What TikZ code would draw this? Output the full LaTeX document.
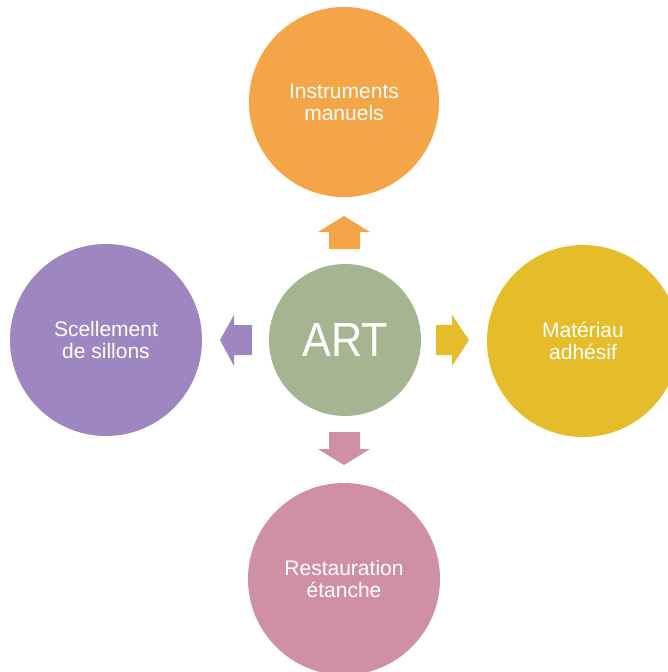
\documentclass[tikz,border=0pt]{standalone}
\usepackage{fontspec}
\setmainfont{Liberation Sans}
\definecolor{cOrange}{HTML}{F3A548}
\definecolor{cGreen}{HTML}{A5B592}
\definecolor{cPurple}{HTML}{9E86C1}
\definecolor{cYellow}{HTML}{E5BC2A}
\definecolor{cPink}{HTML}{D090A3}
\tikzset{
  bigcirc/.style={circle, inner sep=0pt, minimum size=192pt, text=white, align=center,
    font=\fontsize{21}{22}\selectfont},
  hubcirc/.style={circle, inner sep=0pt, minimum size=152pt, text=white,
    font=\fontsize{48}{48}\selectfont},
}
\begin{document}
\begin{tikzpicture}[x=1pt,y=-1pt]
\useasboundingbox (0,0) rectangle (668,672);
\begin{scope}
\clip (0,0) rectangle (668,672);
\node[hubcirc, fill=cGreen] (hub) at (345,340) {\scalebox{0.9}[1]{ART}};
\node[bigcirc, fill=cOrange, minimum size=190pt] (top) at (344,102) {Instruments\\manuels};
\node[bigcirc, fill=cPurple] (left) at (106,340) {Scellement\\de sillons};
\node[bigcirc, fill=cYellow] (right) at (583,341) {Matériau\\adhésif};
\node[bigcirc, fill=cPink] (bottom) at (344,579) {Restauration\\étanche};
\end{scope}
% block arrows
\fill[cOrange] (329,249) -- (360,249) -- (360,232) -- (370,232) -- (344,216) -- (318,232) -- (329,232) -- cycle;
\fill[cPink] (329,432) -- (360,432) -- (360,449) -- (370,449) -- (344,465) -- (318,449) -- (329,449) -- cycle;
\fill[cPurple] (252,325) -- (252,355) -- (234,355) -- (234,366) -- (220,340) -- (234,315) -- (234,325) -- cycle;
\fill[cYellow] (436,325) -- (436,355) -- (452,355) -- (452,366) -- (469,340) -- (452,315) -- (452,325) -- cycle;
\end{tikzpicture}
\end{document}
